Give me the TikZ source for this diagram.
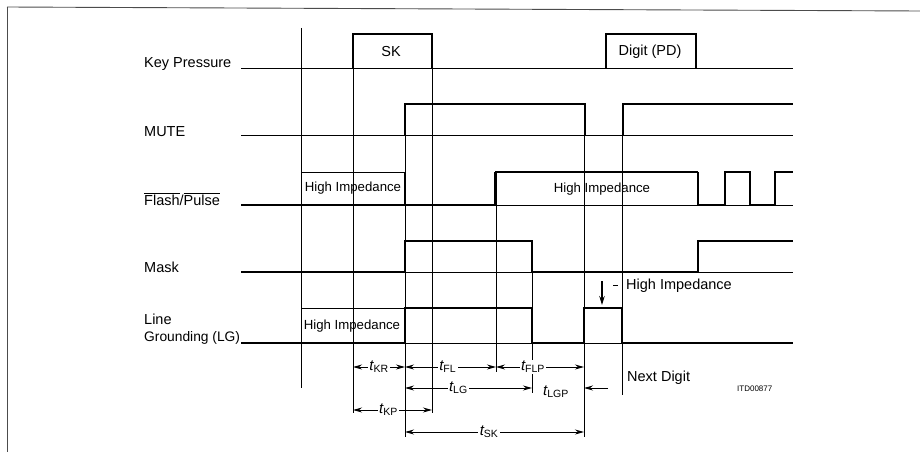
\documentclass[tikz,border=0pt]{standalone}
\usepackage{fontspec}
\setmainfont{Liberation Sans}
\usetikzlibrary{arrows.meta}
\begin{document}
\begin{tikzpicture}[x=1pt,y=-1pt,
  sig/.style={line width=1.9pt, line join=miter},
  refl/.style={line width=0.8pt},
  frm/.style={line width=0.9pt, black!70},
  lbl/.style={font=\fontsize{14.5}{16}\selectfont, inner sep=0pt},
  hz/.style={font=\fontsize{13.2}{15}\selectfont, inner sep=0pt},
  tl/.style={fill=white, inner sep=1.5pt, font=\fontsize{15}{16}\selectfont},
  dim/.style={line width=0.9pt, {Stealth[length=9pt,width=5pt]}-{Stealth[length=9pt,width=5pt]}},
  dimr/.style={line width=0.9pt, -{Stealth[length=9pt,width=5pt]}}
]
\useasboundingbox (0,0) rectangle (920,452);
% frame
\draw[frm] (7,7) -- (920,11);
\draw[frm] (7,7) -- (7,452);

% signal names
\node[lbl, anchor=base west] (nkp) at (144,67) {Key Pressure};
\node[lbl, anchor=base west] (nmu) at (144,136) {MUTE};
\node[lbl, anchor=base west] (nfp) at (144,205) {$\overline{\mbox{Flash}}$/$\overline{\mbox{Pulse}}$};
\node[lbl, anchor=base west] (nma) at (144,272) {Mask};
\node[lbl, anchor=base west] (nl1) at (144,324) {Line};
\node[lbl, font=\fontsize{13.8}{16}\selectfont, anchor=base west] (nl2) at (144,341) {Grounding (LG)};

% reference verticals
\draw[refl] (301,28) -- (301,388);
\draw[refl] (353,34) -- (353,413);
\draw[refl] (405,103) -- (405,437);
\draw[refl] (432,34) -- (432,413);
\draw[refl] (496,172) -- (496,372);
\draw[refl] (532,241) -- (532,393);
\draw[refl] (584,103) -- (584,437);
\draw[refl] (622,103) -- (622,395);

% baselines
\foreach \yy in {68.5,135.5,205,272,343}
  \draw[refl] (241,\yy) -- (793,\yy);

% Key Pressure
\draw[sig] (241,68.5) -- (353,68.5) -- (353,34) -- (432,34) -- (432,68.5) -- (606,68.5)
  -- (606,34) -- (696,34) -- (696,68.5) -- (793,68.5);
\node[lbl] (sk) at (391,52) {SK};
\node[lbl] (pd) at (650,52) {Digit (PD)};

% MUTE
\draw[sig] (241,135.5) -- (405,135.5) -- (405,104) -- (585,104) -- (585,135.5) -- (623,135.5)
  -- (623,104) -- (793,104);

% Flash/Pulse
\draw[sig] (241,205) -- (405,205);
\draw[refl] (301,172) -- (405,172);
\draw[sig] (405,172) -- (405,205) -- (495,205) -- (495,172);
\draw[line width=1.2pt] (495,172) -- (698,172);
\draw[sig] (698,172) -- (698,205) -- (725,205) -- (725,172) -- (750,172) -- (750,205)
  -- (775,205) -- (775,172) -- (793,172);
\node[hz] (hz1) at (353,188.5) {High Impedance};
\node[hz] (hz2) at (602,189) {High Impedance};

% Mask
\draw[sig] (241,272) -- (405,272) -- (405,241) -- (532,241) -- (532,272) -- (698,272)
  -- (698,241) -- (793,241);

% Line Grounding
\draw[sig] (241,343) -- (405,343);
\draw[refl] (301,308) -- (405,308);
\draw[sig] (405,343) -- (405,308) -- (532,308) -- (532,343) -- (584,343) -- (584,308)
  -- (622,308) -- (622,343) -- (793,343);
\node[hz] (hz3) at (352,326) {High Impedance};

% high impedance marker
\coordinate (ar1) at (602,281);
\coordinate (ar2) at (602,305);
\draw[line width=1.2pt, -{Stealth[length=9pt,width=5.5pt]}] (ar1) -- (ar2);
\coordinate (ds1) at (613,285);
\coordinate (ds2) at (618,285);
\draw[refl] (ds1) -- (ds2);
\node[hz, font=\fontsize{14.5}{16}\selectfont, anchor=west] (hz4) at (626,286) {High Impedance};

% timing dimensions
\coordinate (a1) at (353,367); \coordinate (a2) at (405,367);
\coordinate (a3) at (496,367); \coordinate (a4) at (584,367);
\draw[dim] (a1) -- node[tl] (tkr) {\itshape t\textsubscript{\upshape KR}} (a2);
\draw[dim] (a2) -- node[tl, pos=0.47] (tfl) {\itshape t\textsubscript{\upshape FL}} (a3);
\draw[dim] (a3) -- node[tl, pos=0.42] (tflp) {\itshape t\textsubscript{\upshape FLP}} (a4);

\coordinate (b1) at (405,388); \coordinate (b2) at (532,388);
\draw[dim] (b1) -- node[tl, pos=0.42] (tlg) {\itshape t\textsubscript{\upshape LG}} (b2);
\coordinate (b3) at (608,388); \coordinate (b4) at (584,388);
\draw[dimr] (b3) -- (b4);
\node[tl] (tlgp) at (556,392) {\itshape t\textsubscript{\upshape LGP}};

\coordinate (c1) at (353,410); \coordinate (c2) at (432,410);
\draw[dim] (c1) -- node[tl, pos=0.45] (tkp) {\itshape t\textsubscript{\upshape KP}} (c2);

\coordinate (d1) at (405,432); \coordinate (d2) at (584,432);
\draw[dim] (d1) -- node[tl, pos=0.47] (tsk) {\itshape t\textsubscript{\upshape SK}} (d2);

\node[lbl, font=\fontsize{14.5}{16}\selectfont, anchor=west] (nd) at (627,378) {Next Digit};
\node[inner sep=0pt, font=\fontsize{8}{9}\selectfont, anchor=west] (code) at (737,389) {ITD00877};
\end{tikzpicture}
\end{document}
